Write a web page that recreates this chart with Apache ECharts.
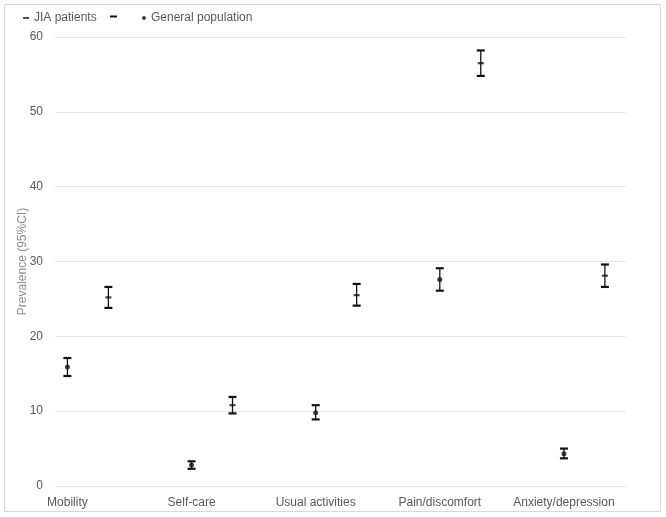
<!DOCTYPE html>
<html>
<head>
<meta charset="utf-8">
<script src="https://cdn.jsdelivr.net/npm/echarts@6/dist/echarts.min.js"></script>
<style>
html,body{margin:0;padding:0;background:#fff;}
#chart{width:666px;height:517px;}
</style>
</head>
<body>
<div id="chart"></div>
<script>
// ---- data ----
const categories = ['Mobility', 'Self-care', 'Usual activities', 'Pain/discomfort', 'Anxiety/depression'];
const genMean = [15.9, 2.8, 9.8, 27.6, 4.3];
const genLow  = [14.7, 2.3, 8.9, 26.1, 3.7];
const genHigh = [17.1, 3.3, 10.8, 29.1, 5.0];
const jiaMean = [25.2, 10.8, 25.5, 56.5, 28.1];
const jiaLow  = [23.8, 9.7, 24.1, 54.8, 26.6];
const jiaHigh = [26.6, 11.9, 27.0, 58.2, 29.6];
const yTicks = [0, 10, 20, 30, 40, 50, 60];

const GEN_OFFSET = 0;
const JIA_OFFSET = 0.33;

const chart = echarts.init(document.getElementById('chart'));

function errData(mean, low, high, off) {
  return categories.map((c, i) => [i + off, mean[i], low[i], high[i]]);
}
function errRender(params, api) {
  const x = api.value(0);
  const lo = api.coord([x, api.value(2)]);
  const hi = api.coord([x, api.value(3)]);
  const hw = 4;
  return {
    type: 'group',
    children: [
      { type: 'line', shape: { x1: lo[0], y1: lo[1], x2: hi[0], y2: hi[1] }, style: { stroke: '#111', lineWidth: 1.3 } },
      { type: 'line', shape: { x1: lo[0] - hw, y1: lo[1], x2: lo[0] + hw, y2: lo[1] }, style: { stroke: '#111', lineWidth: 2.2 } },
      { type: 'line', shape: { x1: hi[0] - hw, y1: hi[1], x2: hi[0] + hw, y2: hi[1] }, style: { stroke: '#111', lineWidth: 2.2 } }
    ]
  };
}

const font = 'Liberation Sans, Arial, sans-serif';
const legendText = { color: '#595959', fontSize: 12, fontFamily: font };

chart.setOption({
  animation: false,
  textStyle: { fontFamily: font },
  grid: { left: 55, right: 40, top: 37, bottom: 31 },
  legend: [
    {
      left: 18, top: 7,
      itemWidth: 6, itemHeight: 6,
      textStyle: legendText,
      data: [{ name: 'JIA patients', icon: 'path://M0,2.2 L6,2.2 L6,4 L0,4 Z', itemStyle: { color: '#111' } }]
    },
    {
      left: 137, top: 7,
      itemWidth: 4, itemHeight: 4,
      textStyle: legendText,
      data: [{ name: 'General population', icon: 'circle', itemStyle: { color: '#111' } }]
    }
  ],
  xAxis: {
    type: 'value',
    min: -0.1, max: 4.5,
    axisLine: { show: false },
    axisTick: { show: false },
    splitLine: { show: false },
    axisLabel: {
      customValues: [0, 1, 2, 3, 4],
      formatter: v => categories[Math.round(v)] || '',
      color: '#595959', fontSize: 12, margin: 11
    }
  },
  yAxis: {
    type: 'value',
    min: 0, max: 60, interval: 10,
    name: 'Prevalence (95%CI)',
    nameLocation: 'middle',
    nameGap: 26,
    nameMoveOverlap: false,
    nameTextStyle: { color: '#8c8c8c', fontSize: 12, fontFamily: font },
    axisLine: { show: false },
    axisTick: { show: false },
    axisLabel: { color: '#595959', fontSize: 12, margin: 12,
      formatter: v => yTicks.includes(v) ? String(v) : '' },
    splitLine: { lineStyle: { color: '#e6e6e6', width: 1 } }
  },
  graphic: [
    { type: 'rect', shape: { x: 4.5, y: 4.5, width: 656, height: 507 }, style: { fill: 'none', stroke: '#d9d9d9', lineWidth: 1 }, silent: true },
    { type: 'rect', shape: { x: 110, y: 15.5, width: 7, height: 2 }, style: { fill: '#111' }, silent: true }
  ],
  series: [
    { name: 'JIA err', type: 'custom', renderItem: errRender, data: errData(jiaMean, jiaLow, jiaHigh, JIA_OFFSET), z: 2 },
    { name: 'Gen err', type: 'custom', renderItem: errRender, data: errData(genMean, genLow, genHigh, GEN_OFFSET), z: 2 },
    { name: 'JIA patients', type: 'scatter', symbol: 'rect', symbolSize: [6, 2.2],
      itemStyle: { color: '#111' }, z: 3,
      data: categories.map((c, i) => [i + JIA_OFFSET, jiaMean[i]]) },
    { name: 'General population', type: 'scatter', symbol: 'circle', symbolSize: 5,
      itemStyle: { color: '#111' }, z: 3,
      data: categories.map((c, i) => [i + GEN_OFFSET, genMean[i]]) }
  ]
});
</script>
</body>
</html>
